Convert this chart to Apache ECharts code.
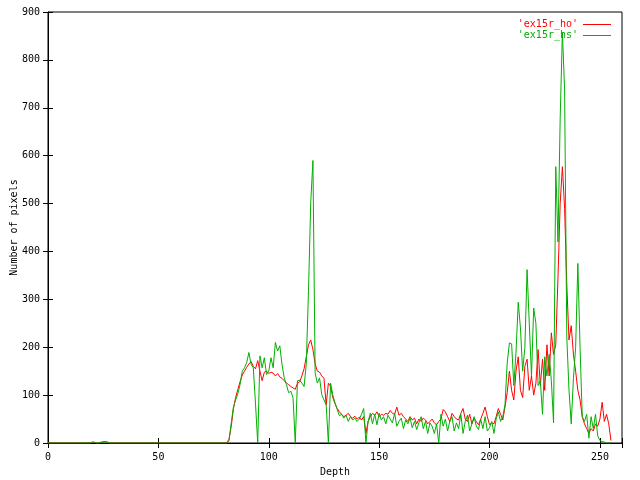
<!DOCTYPE html>
<html>
<head>
<meta charset="utf-8">
<script src="https://cdn.jsdelivr.net/npm/echarts@6/dist/echarts.min.js"></script>
<style>html,body{margin:0;padding:0;background:#fff}#c{width:640px;height:480px}</style>
</head>
<body>
<div id="c"></div>
<script>
var seriesNames = ["'ex15r_ho'", "'ex15r_hs'"];
var xTicks = [0, 50, 100, 150, 200, 250];
var yTicks = [0, 100, 200, 300, 400, 500, 600, 700, 800, 900];

// values for depth 0..255
var hoValues = [
0,0,0,0,0,0,0,0,0,0, 0,0,0,0,0,0,0,0,0,0,
2,1,0,0,1,3,3,2,0,0, 0,0,0,0,0,0,0,0,0,0,
0,0,0,0,0,0,0,0,0,0, 0,0,0,0,0,0,0,0,0,0,
0,0,0,0,0,0,0,0,0,0, 0,0,0,0,0,0,0,0,0,0,
0,0,8,35,72,95,112,128,142,150,
158,165,170,160,155,172,150,130,148,150,
145,148,146,140,145,138,135,130,125,122,
118,115,112,125,128,140,155,180,205,215,
195,165,150,148,140,135,80,125,118,95,
82,72,65,60,55,58,62,55,52,56,
50,54,48,55,20,45,55,62,58,65,
55,60,58,62,60,68,62,60,75,58,
62,55,50,45,55,48,52,40,50,45,
52,48,40,45,50,42,38,45,50,70,
65,55,45,62,55,50,48,62,72,50,
45,60,40,52,45,38,50,62,75,55,
38,42,40,55,72,60,48,75,105,150,
110,90,150,180,110,95,160,175,110,140,
100,125,195,120,175,110,205,140,230,185,
205,345,500,577,490,330,215,245,185,150,
110,90,55,40,30,20,30,25,40,35,
50,85,45,60,40,5
];
var hsValues = [
0,0,0,0,0,0,0,0,0,0, 0,0,0,0,0,0,0,0,0,0,
1,2,0,0,2,1,3,1,0,0, 0,0,0,0,0,0,0,0,0,0,
0,0,0,0,0,0,0,0,0,0, 0,0,0,0,0,0,0,0,0,0,
0,0,0,0,0,0,0,0,0,0, 0,0,0,0,0,0,0,0,0,0,
0,0,5,42,75,90,103,122,150,157,
168,189,164,157,81,0,182,157,178,143,
150,178,157,210,192,203,164,136,122,105,
108,94,0,130,131,125,118,166,319,501,
590,146,125,136,101,90,80,0,125,100,
84,70,57,60,52,58,45,55,48,52,
45,50,60,72,0,45,62,40,60,38,
62,48,55,40,58,50,42,62,35,45,
52,30,48,40,52,32,45,28,42,55,
30,45,20,42,35,20,40,0,60,35,
50,25,45,55,25,42,30,60,20,45,
58,25,40,55,35,28,50,30,55,25,
32,45,20,50,65,45,55,80,167,209,
207,120,190,294,240,150,200,362,250,140,
282,250,120,130,60,180,140,185,130,42,
577,420,678,858,737,220,110,40,135,200,
375,200,55,45,60,10,55,30,60,15,
5,3,2,0,0,0
];

function pairs(vals){ var out=[]; for (var i=0;i<vals.length;i++) out.push([i, vals[i]]); return out; }

var font = 'DejaVu Sans Mono';
var chart = echarts.init(document.getElementById('c'), null, {renderer:'canvas'});
function tickAxis(pos, max, interval){
  return {type:'value', min:0, max:max, interval:interval, position:pos,
    axisLine:{show:false}, axisLabel:{show:false}, splitLine:{show:false},
    axisTick:{show:true, inside:true, length:5, lineStyle:{color:'#000', width:1}}};
}
chart.setOption({
  animation:false,
  backgroundColor:'#fff',
  grid:{left:48, right:18, top:12, bottom:37, containLabel:false, outerBoundsMode:'none',
    show:true, borderColor:'#000', borderWidth:1, backgroundColor:'transparent'},
  legend:{
    orient:'vertical', right:24, top:14, align:'right', itemGap:0,
    icon:'rect', itemWidth:28, itemHeight:1,
    textStyle:{fontFamily:font, fontSize:10, lineHeight:11},
    data:[
      {name:seriesNames[0], textStyle:{color:'#ff0000'}},
      {name:seriesNames[1], textStyle:{color:'#00b000'}}
    ]
  },
  xAxis:[
    {type:'value', min:xTicks[0], max:260, interval:50, position:'bottom',
      name:'Depth', nameLocation:'middle', nameGap:24, nameMoveOverlap:false,
      nameTextStyle:{fontFamily:font, fontSize:10, color:'#000'},
      axisLine:{show:true, onZero:false, lineStyle:{color:'#000'}},
      axisTick:{show:false}, splitLine:{show:false},
      axisLabel:{fontFamily:font, fontSize:10, color:'#000', margin:9,
        formatter:function(v){ return xTicks.indexOf(v)>=0 ? String(v) : ''; }}
    },
    tickAxis('top', 260, 50),
    tickAxis('bottom', 260, 50)
  ],
  yAxis:[
    {type:'value', min:yTicks[0], max:yTicks[yTicks.length-1], interval:100, position:'left',
      name:'Number of pixels', nameLocation:'middle', nameGap:29, nameRotate:90, nameMoveOverlap:false,
      nameTextStyle:{fontFamily:font, fontSize:10, color:'#000'},
      axisLine:{show:true, onZero:false, lineStyle:{color:'#000'}},
      axisTick:{show:false}, splitLine:{show:false},
      axisLabel:{fontFamily:font, fontSize:10, color:'#000', margin:8}
    },
    tickAxis('right', 900, 100),
    tickAxis('left', 900, 100)
  ],
  series:[
    {name:seriesNames[0], type:'line', data:pairs(hoValues), showSymbol:false, symbol:'none',
      lineStyle:{color:'#ff0000', width:1}, itemStyle:{color:'#ff0000'}, xAxisIndex:0, yAxisIndex:0},
    {name:seriesNames[1], type:'line', data:pairs(hsValues), showSymbol:false, symbol:'none',
      lineStyle:{color:'#00b000', width:1}, itemStyle:{color:'#00b000'}, xAxisIndex:0, yAxisIndex:0}
  ]
});
</script>
</body>
</html>
